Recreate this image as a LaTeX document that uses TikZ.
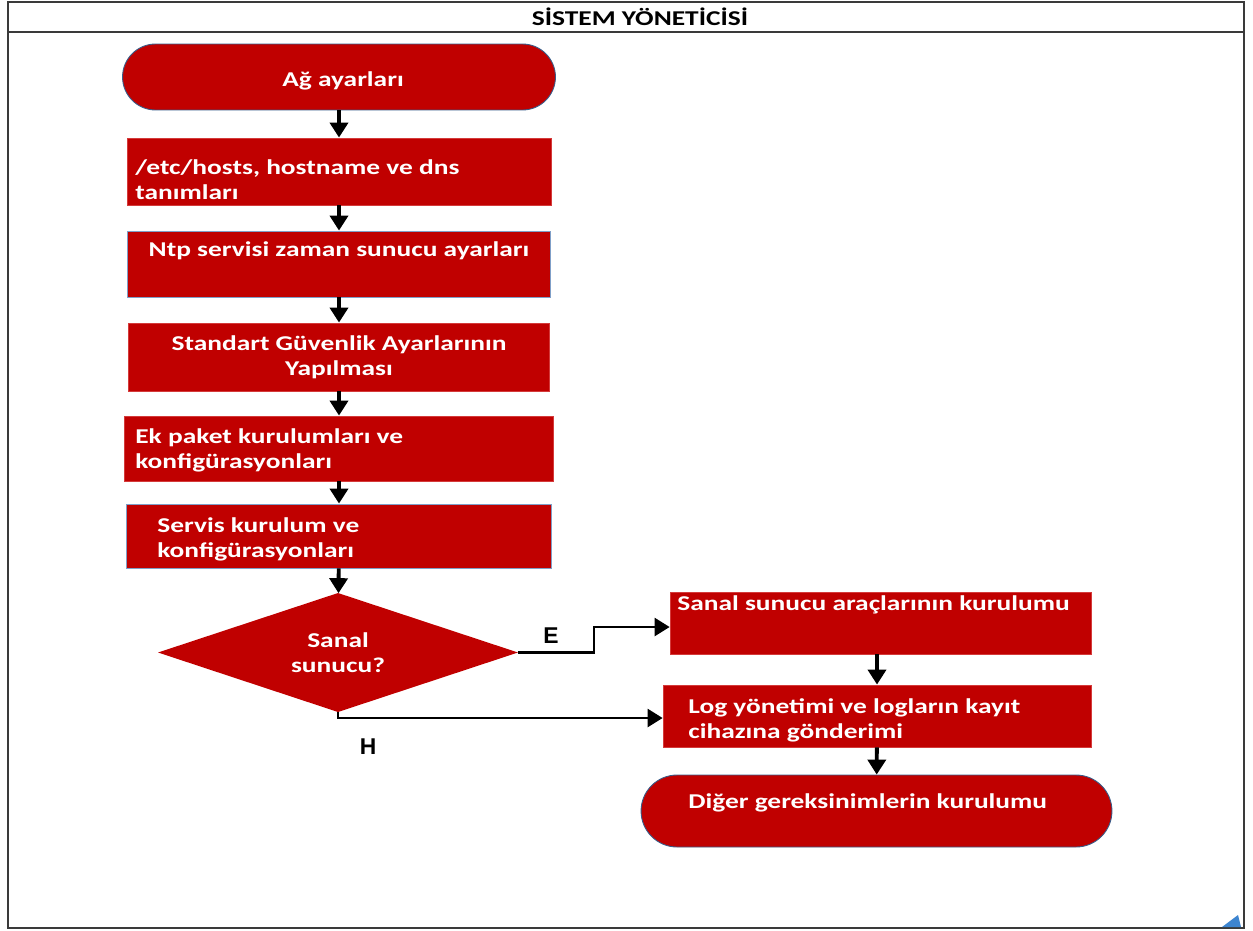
\documentclass[tikz,border=0pt]{standalone}
\usepackage{fontspec}
\setmainfont{Carlito}[FakeStretch=1.3]
\newfontfamily\labfont{Liberation Sans}
\usetikzlibrary{arrows.meta,positioning,shapes.geometric}
\definecolor{boxred}{HTML}{C00000}
\definecolor{edgered}{HTML}{D43A3A}
\definecolor{edgeblue}{HTML}{7F9FC8}
\definecolor{termedge}{HTML}{385D8A}
\definecolor{framegray}{HTML}{3A3A3A}
\definecolor{cornerblue}{HTML}{3D85D0}

\begin{document}
\begin{tikzpicture}[x=0.02cm,y=-0.02cm,
    stepbox/.style={rectangle,fill=boxred,draw=edgered,line width=0.5pt,inner sep=0pt},
    bluebox/.style={stepbox,draw=edgeblue},
    termbox/.style={stepbox,draw=termedge,rounded corners=0.66cm},
    txt/.style={text=white,font=\fontsize{12}{14.2}\selectfont\bfseries,inner sep=0pt,align=left},
    flow/.style={line width=2.2pt,-{Triangle[length=0.3cm,width=0.36cm]}},
    branch/.style={flow,line width=1.4pt},
    yesno/.style={font={\labfont\fontsize{13}{15}\selectfont\bfseries},inner sep=0pt}]
  \useasboundingbox (0,0) rectangle (1253,930);
  % lane frame
  \draw[framegray,line width=1.6pt] (8,2) rectangle (1244,928);
  \draw[framegray,line width=1.2pt] (8,32) -- (1244,32);
  \node[font=\fontsize{12}{14}\selectfont\bfseries,inner sep=0pt] (lane) at (640,17) {SİSTEM YÖNETİCİSİ};
  \fill[cornerblue] (1222,927) -- (1241,927) -- (1238,915) -- cycle;
  % left column
  \node[termbox,minimum width=8.66cm,minimum height=1.32cm] (net) at (339,77) {};
  \node[txt] (nettxt) at (343,81) {Ağ ayarları};
  \node[stepbox,minimum width=8.48cm,minimum height=1.34cm] (hosts) at (339,171.5) {};
  \node[txt,anchor=west] (hoststxt) at (135,180) {/etc/hosts, hostname ve dns\\tanımları};
  \node[bluebox,minimum width=8.46cm,minimum height=1.32cm] (ntp) at (339,264) {};
  \node[txt] (ntptxt) at (339,251) {Ntp servisi zaman sunucu ayarları};
  \node[stepbox,minimum width=8.42cm,minimum height=1.36cm,txt,align=center] (sec) at (339,357) {Standart Güvenlik Ayarlarının\\Yapılması};
  \node[stepbox,minimum width=8.58cm,minimum height=1.30cm] (pkg) at (339,448.5) {};
  \node[txt,anchor=west] (pkgtxt) at (135,450) {Ek paket kurulumları ve\\konfigürasyonları};
  \node[bluebox,minimum width=8.5cm,minimum height=1.28cm] (svc) at (339,536) {};
  \node[txt,anchor=west] (svctxt) at (157,539) {Servis kurulum ve\\konfigürasyonları};
  \node[diamond,aspect=3,fill=boxred,inner sep=0pt,outer sep=0pt,minimum width=7.2cm,minimum height=2.38cm,txt,align=center] (virt) at (338,652.5) {Sanal\\sunucu?};
  % right column
  \node[stepbox,minimum width=8.42cm,minimum height=1.24cm] (tools) at (880.5,623) {};
  \node[txt,anchor=west] (toolstxt) at (677,605) {Sanal sunucu araçlarının kurulumu};
  \node[stepbox,minimum width=8.56cm,minimum height=1.24cm] (logs) at (877,716) {};
  \node[txt,anchor=west] (logstxt) at (688,720) {Log yönetimi ve logların kayıt\\cihazına gönderimi};
  \node[termbox,minimum width=9.42cm,minimum height=1.44cm,rounded corners=0.72cm] (rest) at (876.5,811) {};
  \node[txt,anchor=west] (resttxt) at (688,803) {Diğer gereksinimlerin kurulumu};
  % connectors
  \draw[flow] (net) -- (hosts);
  \draw[flow] (hosts) -- (ntp);
  \draw[flow] (ntp) -- (sec);
  \draw[flow] (sec) -- (pkg);
  \draw[flow] (pkg) -- (svc);
  \draw[flow] (svc) -- (virt);
  \draw[branch] (virt.east) -- ++(76,0) |- ([yshift=-0.08cm]tools.west);
  \draw[branch] (virt.south) |- ([yshift=-0.04cm]logs.west);
  \draw[flow] (tools.south -| logs.north) -- (logs.north);
  \draw[flow] (logs) -- (rest);
  \node[yesno] (yes) at (551,636) {E};
  \node[yesno] (no) at (368,747) {H};
\end{tikzpicture}
\end{document}
